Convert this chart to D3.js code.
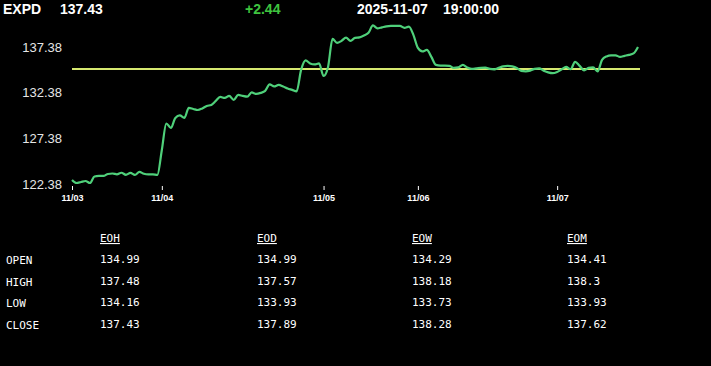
<!DOCTYPE html>
<html>
<head>
<meta charset="utf-8">
<script src="https://cdn.jsdelivr.net/npm/d3@7"></script>
<style>
    html, body { margin: 0; padding: 0; background: #000; }
    svg { display: block; }
    .yAxis text { font-family: 'Liberation Sans', Arial, sans-serif; font-size: 13px; fill: #e6e6e6; }
    .xAxis text { font-family: 'Liberation Sans', Arial, sans-serif; font-size: 9px; font-weight: bold; fill: #fff; }
    .xAxis line { stroke: #fff; }
    .table text { font-family: 'DejaVu Sans Mono', 'Liberation Mono', monospace; font-size: 11px; fill: #fff; }
</style>
</head>
<body>
<svg id="chart"></svg>
<script>
const width = 711;
const height = 366;

const symbol = 'EXPD';
const lastPrice = '137.43';
const change = '+2.44';
const stamp = ['2025-11-07', '19:00:00'];
const openPrice = 134.99;

// hourly closes, one per bar
const prices = [
    122.82, 122.49, 122.60, 122.71, 122.49, 123.20, 123.26, 123.26, 123.48, 123.53,
    123.44, 123.61, 123.39, 123.59, 123.37, 123.70, 123.50, 123.44, 123.44, 123.37,
    126.11, 129.01, 128.52, 129.62, 129.89, 129.62, 130.71, 130.60, 130.49, 130.66,
    130.93, 131.04, 131.48, 131.92, 131.81, 132.03, 131.59, 132.14, 132.03, 131.95,
    132.41, 132.25, 132.36, 132.58, 133.29, 133.07, 133.24, 133.07, 132.85, 132.69,
    132.52, 134.88, 135.92, 135.59, 135.48, 135.59, 134.22, 135.21, 138.28, 137.84,
    138.06, 138.42, 138.06, 138.39, 138.44, 138.64, 138.94, 139.76, 139.43, 139.54,
    139.65, 139.70, 139.70, 139.70, 139.49, 139.63, 138.72, 137.29, 136.91, 137.07,
    136.31, 135.43, 135.35, 135.35, 135.32, 135.10, 135.15, 135.43, 135.15, 134.99,
    135.04, 135.10, 135.13, 134.99, 134.94, 135.10, 135.26, 135.32, 135.26, 135.10,
    134.77, 134.72, 134.80, 134.99, 135.04, 134.80, 134.61, 134.52, 134.66, 134.94,
    135.21, 134.96, 135.76, 135.32, 134.83, 135.10, 135.15, 134.72, 135.98, 136.36,
    136.47, 136.47, 136.31, 136.42, 136.53, 136.69, 137.40
];

const dayStartIndex = [0, 20, 56, 77, 108];
const dayLabels = ['11/03', '11/04', '11/05', '11/06', '11/07'];
const yTicks = [122.38, 127.38, 132.38, 137.38];

const periods = ['EOH', 'EOD', 'EOW', 'EOM'];
const rowNames = ['OPEN', 'HIGH', 'LOW', 'CLOSE'];
const openValues = ['134.99', '134.99', '134.29', '134.41'];
const highValues = ['137.48', '137.57', '138.18', '138.3'];
const lowValues = ['134.16', '133.93', '133.73', '133.93'];
const closeValues = ['137.43', '137.89', '138.28', '137.62'];

const svg = d3.select('#chart')
    .attr('width', width)
    .attr('height', height);

// header line
const header = svg.append('g')
    .style('font-family', "'Liberation Sans', Arial, sans-serif")
    .style('font-size', '14px')
    .style('font-weight', 'bold');

header.append('text').attr('x', 3).attr('y', 14).attr('fill', '#fff').text(symbol);
header.append('text').attr('x', 60).attr('y', 14).attr('fill', '#fff').text(lastPrice);
header.append('text').attr('x', 245).attr('y', 14).attr('fill', '#3fc43f').text(change);
header.append('text').attr('x', 357).attr('y', 14).attr('fill', '#fff').text(stamp[0]);
header.append('text').attr('x', 443).attr('y', 14).attr('fill', '#fff').text(stamp[1]);

// price chart
let xScale = d3.scaleLinear()
    .domain([0, prices.length - 1])
    .range([72, 638]);

let yScale = d3.scaleLinear()
    .domain([122.38, 139.8])
    .range([184, 25]);

svg.append('line')
    .attr('x1', xScale(0))
    .attr('x2', xScale(prices.length - 1) + 2)
    .attr('y1', yScale(openPrice))
    .attr('y2', yScale(openPrice))
    .attr('stroke', '#d6e870')
    .attr('stroke-width', 2);

const line = d3.line()
    .x((d, i) => xScale(i))
    .y(d => yScale(d))
    .curve(d3.curveMonotoneX);

svg.append('path')
    .datum(prices)
    .attr('d', line)
    .attr('fill', 'none')
    .attr('stroke', '#4fd07a')
    .attr('stroke-width', 2.2)
    .attr('stroke-linejoin', 'round');

let yAxis = d3.axisLeft(yScale)
    .tickValues(yTicks)
    .tickFormat(d3.format('.2f'))
    .tickSize(0)
    .tickPadding(0);

svg.append('g')
    .attr('class', 'yAxis')
    .attr('transform', 'translate(62, 0)')
    .call(yAxis)
    .call(g => g.select('.domain').remove());

let xAxis = d3.axisBottom(xScale)
    .tickValues(dayStartIndex)
    .tickFormat((d, i) => dayLabels[i])
    .tickSize(4)
    .tickPadding(5);

svg.append('g')
    .attr('class', 'xAxis')
    .attr('transform', 'translate(0, 186)')
    .call(xAxis)
    .call(g => g.select('.domain').remove());

// summary table
const columnX = [100, 257, 412, 567];
const rowY = [263, 285, 306, 328];
const rows = [openValues, highValues, lowValues, closeValues];

const table = svg.append('g').attr('class', 'table');

table.selectAll('.head')
    .data(periods)
    .enter()
    .append('text')
    .attr('class', 'head')
    .attr('x', (d, i) => columnX[i])
    .attr('y', 242)
    .style('text-decoration', 'underline')
    .text(d => d);

table.selectAll('.rowName')
    .data(rowNames)
    .enter()
    .append('text')
    .attr('class', 'rowName')
    .attr('x', 6)
    .attr('y', (d, i) => rowY[i] + 1)
    .text(d => d);

rows.forEach((values, r) => {
    table.selectAll('.cell' + r)
        .data(values)
        .enter()
        .append('text')
        .attr('class', 'cell' + r)
        .attr('x', (d, i) => columnX[i])
        .attr('y', rowY[r])
        .text(d => d);
});
</script>
</body>
</html>
